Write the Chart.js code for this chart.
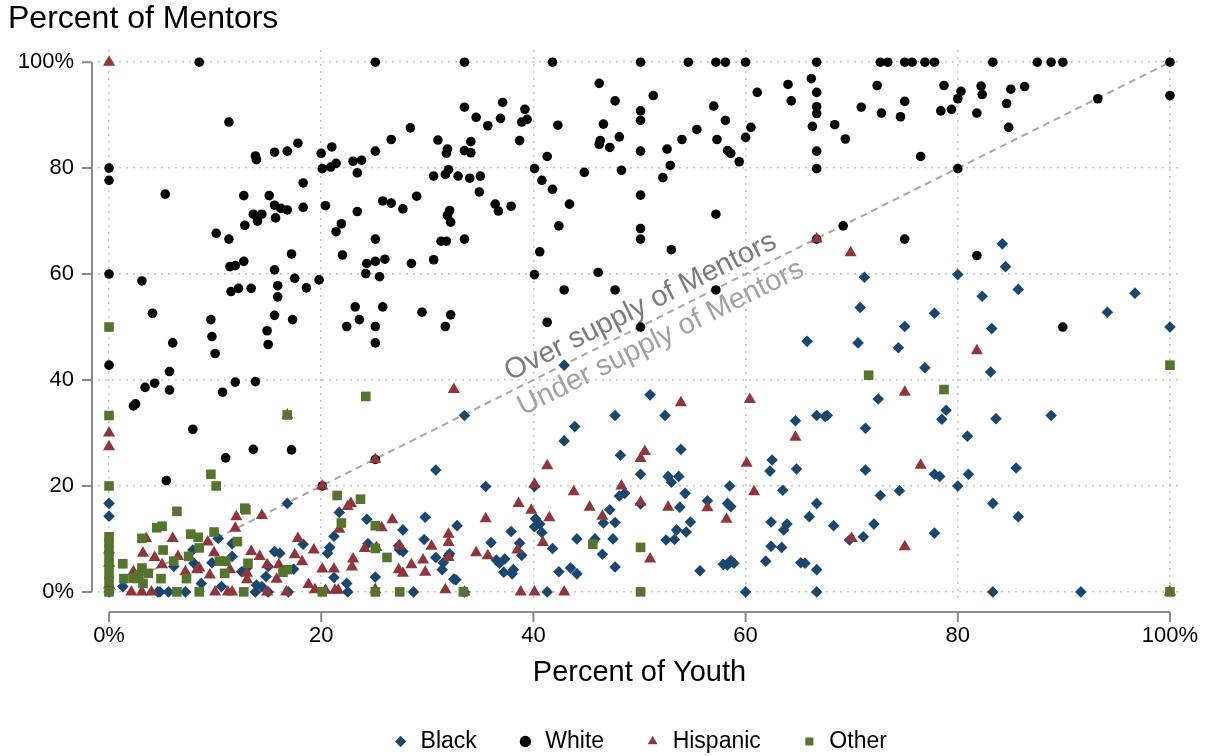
<!DOCTYPE html>
<html lang="en">
<head>
<meta charset="UTF-8" />
<title>Percent of Mentors vs Percent of Youth</title>
<script src="https://cdn.jsdelivr.net/npm/chart.js@4.4.1/dist/chart.umd.min.js"></script>
<style>
  * { margin: 0; padding: 0; box-sizing: border-box; }
  body { background: #fff; width: 1209px; height: 756px; overflow: hidden; }
  canvas { display: block; }
</style>
</head>
<body>
<canvas id="chart" width="1209" height="756"></canvas>
<script>
// ticks
const tickVals = [0, 20, 40, 60, 80, 100];
const xTickLabels = ["0%", "20", "40", "60", "80", "100%"];
const yTickLabels = ["0%", "20", "40", "60", "80", "100%"];

// series: [percent of youth, percent of mentors]
const blackPts = [
  [84.2,65.7],[84.5,61.4],[71.2,59.4],[80,59.9],[82.3,55.8],[85.7,57.1],[70.8,53.7],[77.8,52.6],[96.7,56.4],[94.1,52.8],
  [75,50.1],[83.2,49.7],[100,50],[65.8,47.3],[70.6,47],[74.4,46.1],[76.9,42.3],[83.1,41.5],[72.5,36.4],[66.7,33.3],
  [67.5,33.1],[67.7,33.3],[71.3,30.9],[78.9,34.3],[78.5,32.6],[83.6,32.7],[88.8,33.3],[80.9,29.4],[71.3,23],[77.8,22.2],
  [78.3,21.8],[81,22.2],[85.5,23.4],[80,20],[72.7,18.2],[74.5,19.1],[66.7,16.7],[66,14.2],[68.3,12.5],[72.1,12.8],
  [83.3,16.7],[85.7,14.2],[69.8,9.8],[71.1,10.4],[77.8,11.1],[66.7,4.2],[66.7,0],[83.3,0],[91.6,0],[65.6,5.4],
  [42.9,42.8],[33.5,33.3],[51,37.2],[47.7,33.3],[52.4,33.3],[43.9,31.2],[42.9,28.5],[53.9,26.9],[48.2,25.8],[50.1,22.2],
  [52.7,21.8],[53,20.7],[53.7,21.8],[35.5,19.9],[40.1,19.9],[54.3,18.6],[58.5,20],[48.1,18.1],[48.6,18.6],[47.2,15.5],
  [47.7,13.1],[46.6,13],[53.8,16],[54.8,13.2],[56.4,17.2],[58.3,16.7],[58.6,16.1],[53.5,11.7],[54.4,11.3],[53.3,9.9],
  [52.5,9.8],[44.1,10],[47.5,10],[45.8,10],[40.2,13.8],[40.1,12.3],[40.6,12.8],[40.8,11.2],[41.8,8.2],[37.9,11.4],
  [38.7,9.2],[38.9,6.9],[36,9.3],[32.8,12.5],[36.5,6],[37.3,6.2],[36.8,5.4],[37.2,3.7],[38.1,4.2],[38,3.4],
  [46.5,7.1],[47.7,4.7],[42.4,3.8],[43.5,4.5],[44.1,3.4],[55.7,4],[57.9,5.2],[58.6,5.9],[58.9,5.4],[58.3,5.1],
  [60,0],[41.3,0],[32.7,2.3],[32,6.8],[62.3,22.8],[62.5,24.9],[64.8,23.2],[64.7,32.3],[63.5,19.2],[62.4,13.2],
  [63.6,11.7],[63.9,12.8],[62.4,8.6],[63.4,8.4],[61.9,5.8],[65.2,5.5],[50.1,16.6],
  [30.8,23],[0,16.7],[0,14.3],[16.8,16.7],[21.7,15],[24.3,13.7],[29.8,14.1],[27.7,11.7],[21.2,10.5],[20.8,8.4],
  [20.6,7.3],[18.3,9],[24.4,9.1],[27.4,7.9],[29.7,9.9],[30.8,6.5],[31.5,5.5],[31.4,4.2],[21.2,2.7],[22.4,1.6],
  [25.1,2.8],[28.7,0],[22.5,0],[32.5,2.4],[15.6,7.6],[16.1,7.3],[11.6,9.1],[7.9,7.9],[8,5.4],[6.1,4.8],
  [9.7,5.5],[12.5,3.8],[13,4.5],[14.8,2.9],[15,4.8],[13.9,1.3],[14.4,1],[8.7,1.6],[10.6,1],[11.6,6.7],
  [17.4,4.3],[16.9,0],[13.8,0],[15,0],[7.2,0],[4.8,0],[5.6,0],[1.3,1],[0,0],[10.3,10.1],
  [27.3,8.7],[27.7,7.6],[32.1,7.2],[4.6,0],[33.5,0]
];
const whitePts = [
  [8.5,100],[25.1,100],[33.5,100],[41.8,100],[50.1,100],[54.6,100],[57.2,100],[58.1,100],[60,100],[66.7,100],
  [72.7,100],[73.4,100],[75,100],[75.7,100],[76.9,100],[77.8,100],[83.3,100],[87.5,100],[88.8,100],[89.9,100],[100,100],
  [11.3,88.7],[0,80],[0,77.7],[5.3,75.1],[12.7,74.8],[15.1,74.8],[18.3,77.2],[13.8,82.3],[13.9,81.6],[15.6,83],
  [16.8,83.2],[17.8,84.7],[20,82.8],[21,84],[20.1,79.9],[20.9,80.2],[21.4,80.9],[23,81.3],[23.8,81.5],[23.4,79.1],
  [25.1,83.2],[26.6,85.4],[28.4,87.6],[31,85.3],[31.9,83.6],[31.8,82.8],[32,79.7],[31.7,78.8],[30.6,78.5],
  [16.2,72.4],[16.8,72.1],[15.6,73],[18.3,72.6],[13.6,71.3],[14.4,71.3],[14,70],[15.7,70.6],[12.8,69.2],[10.1,67.7],
  [11.3,66.6],[20.4,72.9],[23.4,71.8],[25.8,73.8],[26.6,73.4],[27.7,72.3],[29,74.7],[21.9,69.5],[21.4,68],[25.1,66.6],
  [32.1,72],[31.9,71.1],[32.2,69.8],[31.3,66.2],[31.8,66.2],
  [17.2,63.8],[22,63.6],[11.4,61.4],[11.9,61.6],[12.7,62.4],[15.6,60.8],[24.3,62],[25.1,62.4],[26,62.8],[24.2,60.1],
  [25.5,59.5],[28.5,62],[30.6,62.7],[0,60],[3.1,58.7],[11.5,56.7],[12.2,57.3],[13.4,57.3],[15.9,57.8],[15.9,55.7],
  [17.5,59.2],[18.6,57.4],[19.8,58.9],[4.1,52.6],[9.6,51.4],[15.6,52.2],[17.3,51.4],[23.2,53.8],[25.8,53.8],[23.6,51.4],
  [29.5,52.8],[32.2,52.3],[22.4,50.1],[25.1,50.1],[31.7,50.1],[14.9,49.3],
  [9.7,48.2],[15,46.7],[6,47],[10,45],[0,42.8],[5.7,41.6],[3.4,38.6],[4.3,39.4],[5.7,38.1],[10.7,37.7],
  [11.9,39.6],[13.8,39.7],[2.3,35.1],[2.5,35.5],[7.9,30.7],[11,25.3],[13.6,26.9],[17.2,26.8],[5.4,21],[25.1,47],
  [20.1,20],[25.1,25],
  [46.2,96],[51.3,93.7],[47.7,92.7],[33.5,91.5],[37.1,92.4],[34.6,89.6],[35.7,88],[36.9,89.4],[39.2,91.1],[38.9,88.7],
  [39.4,89.2],[38.7,85.2],[42.3,88.1],[50.1,90.8],[50.1,89],[46.6,88.3],[46.3,85.2],[46.2,84.5],[47.2,83.9],[48.1,85.9],
  [50.1,83.2],[52.6,83.6],[52.9,80.5],[54,85.4],[55.4,87.3],[57,91.7],[58.1,89],[57.3,85.4],[58.3,83.3],[58.6,82.8],
  [59.4,81.2],[60.5,87.7],[60,85.8],[61.1,94.3],[64,95.8],[64.3,92.7],[66.2,96.9],
  [32.9,78.5],[34,78.1],[35,78.5],[34.1,85],[33.5,83.3],[34.1,82.9],[34.9,75.5],[36.4,73.2],[36.7,71.9],[37.9,72.8],
  [33.5,66.6],[40.1,79.9],[41.3,82.2],[40.8,77.7],[41.8,76],[43.4,73.2],[42.4,69.1],[44.8,79.2],[48.3,79.6],[40.6,64.2],
  [40.1,59.9],[46.1,60.3],[42.9,57],[47.7,57],[50.1,74.9],[50.1,68.6],[50.1,66.6],[52.2,78.2],[53,64.6],[57.2,71.3],
  [57.2,57],[41.3,50.9],[50.1,50],
  [66.7,94.3],[66.7,91.6],[66.7,90.3],[66.3,87.9],[66.7,83.2],[66.7,79.9],[68.4,88.2],[69.4,85.5],[70.9,91.5],[72.4,95.6],
  [72.8,90.4],[74.6,89.7],[75,92.6],[76.5,82.2],[78.7,95.6],[78.4,90.8],[79.4,91.1],[80,93.1],[80.3,94.5],[80,79.9],
  [81.8,90.4],[82.2,95.5],[82.3,93.9],[84.6,92.2],[85,94.9],[84.8,87.7],[86.3,95.4],[93.2,93.1],[100,93.7],[69.2,69.1],
  [66.7,66.6],[75,66.6],[81.8,63.5],[89.9,50]
];
const hispPts = [
  [0,100],[66.7,66.6],[69.9,64],[81.8,45.5],[75,37.7],[76.5,23.9],[70,10.1],[75,8.5],[100,0],
  [32.5,38.2],[53.9,35.7],[60.4,36.3],[64.7,29.2],[41.3,23.8],[50.5,26.5],[50.1,25.2],[60.1,24.3],[60.8,18.9],[40.1,20.3],
  [48.3,20],[43.8,18.9],[45.3,16],[46.5,14.3],[50.1,16.9],[52.7,16],[56.4,15.9],[58.2,13.7],[38.6,16.7],[39.8,15.4],
  [41.5,14],[35.5,13.8],[40.9,9.3],[38.5,7.9],[34.6,7.4],[35.7,6.8],[32,10.9],[32,9.3],[32,6.5],[51,6.2],
  [33.5,0],[38.8,0],[40.1,0],[42.9,0],
  [0,30],[0,27.4],[16.8,33.4],[25.1,25],[20.1,20],[22.5,16.1],[22.8,16.7],[12,14.2],[14.4,14.4],[11.9,12],
  [21.7,11.8],[25.7,12.1],[26.7,13.6],[17.8,10.1],[19.3,7.9],[9.3,9.4],[6,10.1],[3.5,10.1],[3.2,7.3],[4.3,6.5],
  [9.9,7.4],[13.4,7.6],[14.2,6.7],[5,5.1],[6.5,6.7],[8.5,4.5],[9.5,3.2],[11.4,4.2],[13,3.5],[14.9,5.1],
  [16,5.1],[15.8,2.4],[17.5,7],[18.2,5.7],[18.8,1.4],[20.1,4.3],[21.2,4.3],[23,6.2],[22.9,4.7],[24.1,8.2],
  [25.2,8.4],[27.4,8.7],[27.3,4.2],[27.7,3.5],[28.5,5.1],[29.6,6],[29.8,3.7],[30.4,8.6],[31.7,0.4],[2.1,0],
  [3.1,0],[4,0],[11.2,0],[10,0],[11.6,0],[14.9,0],[16.7,0],[19.4,0.4],[20.4,0.3],[21.3,0.3],
  [21.6,0.3],[25.1,0.4],[0,7.9],[0,5.4],[0,1.3],[7.2,3.8],[8.3,4.2],[2.3,3.8],[2.8,2.3],[13,2.3]
];
const otherPts = [
  [0,50],[0,33.3],[0,20],[0,10.4],[0,9.3],[0,8],[0,6.5],[0,5],[0,3.3],[0,2],
  [0,0],[24.2,36.9],[16.8,33.4],[9.6,22.2],[10.1,20],[6.4,15.2],[12.8,15.8],[12.9,15.5],[4.5,12.1],[5,12.4],
  [3.1,10.1],[5.1,7.9],[7.7,10.9],[8.4,10.3],[9.9,11.3],[12.1,9.5],[8.5,8.3],[6.1,5.8],[7.5,6.7],[1.3,5.3],
  [10.4,5.8],[11,5.8],[13.1,5.4],[10.9,3.5],[3.1,4.5],[3.7,3.5],[2.8,3.2],[3.2,1.6],[2.3,2.6],[1.4,2.5],
  [4.9,2.5],[7.3,2.5],[6.4,0],[8.5,0],[12.7,0],[16.4,3.7],[16.8,4.2],[20.1,0],[21.5,18.2],[23.7,17.5],
  [21.9,13],[25.1,12.5],[25.1,8.2],[26.2,6.5],[25.1,0],[27.4,0],[33.4,0],[45.6,9],[50.1,8.4],[50.1,0],
  [71.6,40.9],[78.7,38.2],[100,42.8],[100,0]
];

// equal-share reference line
const diagX = [0, 100];
const diagY = [0, 100];

const noteText = ["Over supply of Mentors", "Under supply of Mentors"];
const notePos = [[50.1, 53.8], [52.0, 47.9]];
const noteColors = ["#7b7b7b", "#a2a2a2"];

const FONT = "'Liberation Sans', Arial, Helvetica, sans-serif";
Chart.defaults.font.family = FONT;
Chart.defaults.color = "#000";

const toXY = (arr) => arr.map((p) => ({ x: p[0], y: p[1] }));

// shrink legend box so the labels sit near the bottom edge
const legendFit = {
  id: "legendFit",
  beforeLayout(chart) {
    const lg = chart.legend;
    if (!lg || lg._patched) return;
    const fit = lg.fit;
    lg.fit = function () {
      fit.call(this);
      this.height = 66;
    };
    lg._patched = true;
  },
};

// offset axis lines with outward ticks (Stata style)
const axisLines = {
  id: "axisLines",
  afterDraw(chart) {
    const { ctx, chartArea, scales } = chart;
    const x = scales.x, y = scales.y;
    const ay = chartArea.bottom + 9;
    const ax = chartArea.left - 6;
    ctx.save();
    ctx.strokeStyle = "#8a8a8a";
    ctx.lineWidth = 2;
    ctx.beginPath();
    ctx.moveTo(x.getPixelForValue(0), ay);
    ctx.lineTo(x.getPixelForValue(100), ay);
    tickVals.forEach((v) => {
      const px = x.getPixelForValue(v);
      ctx.moveTo(px, ay);
      ctx.lineTo(px, ay + 10);
    });
    ctx.moveTo(ax, y.getPixelForValue(0));
    ctx.lineTo(ax, y.getPixelForValue(100));
    tickVals.forEach((v) => {
      const py = y.getPixelForValue(v);
      ctx.moveTo(ax, py);
      ctx.lineTo(ax - 10, py);
    });
    ctx.stroke();
    ctx.restore();
  },
};

// rotated notes along the diagonal
const diagNotes = {
  id: "diagNotes",
  beforeDatasetsDraw(chart) {
    const { ctx, scales } = chart;
    const x = scales.x, y = scales.y;
    const ang = Math.atan2(
      y.getPixelForValue(100) - y.getPixelForValue(0),
      x.getPixelForValue(100) - x.getPixelForValue(0)
    );
    ctx.save();
    ctx.font = "29px " + FONT;
    ctx.textAlign = "center";
    ctx.textBaseline = "middle";
    noteText.forEach((t, i) => {
      ctx.save();
      ctx.translate(x.getPixelForValue(notePos[i][0]), y.getPixelForValue(notePos[i][1]));
      ctx.rotate(ang);
      ctx.fillStyle = noteColors[i];
      ctx.fillText(t, 0, 0);
      ctx.restore();
    });
    ctx.restore();
  },
};

const gridOpts = { color: "#c4c4c4", lineWidth: 1.5, drawTicks: false };
const borderOpts = { display: false, dash: [2, 5] };

new Chart(document.getElementById("chart"), {
  type: "scatter",
  data: {
    datasets: [
      { label: "Black", data: toXY(blackPts), pointStyle: "rectRot", pointRadius: 5.8,
        backgroundColor: "#1a476f", borderColor: "#1a476f", pointBorderWidth: 0, order: 4 },
      { label: "White", data: toXY(whitePts), pointStyle: "circle", pointRadius: 4.8,
        backgroundColor: "#000000", borderColor: "#000000", pointBorderWidth: 0, order: 3 },
      { label: "Hispanic", data: toXY(hispPts), pointStyle: "triangle", pointRadius: 7,
        backgroundColor: "#90353b", borderColor: "#90353b", pointBorderWidth: 0, order: 2 },
      { label: "Other", data: toXY(otherPts), pointStyle: "rect", pointRadius: 6.8,
        backgroundColor: "#55752f", borderColor: "#55752f", pointBorderWidth: 0, order: 1 },
      { type: "line", label: "diag", data: diagX.map((v, i) => ({ x: v, y: diagY[i] })),
        borderColor: "#a6a6a6", borderWidth: 2, borderDash: [7, 5], pointRadius: 0, order: 5 },
    ],
  },
  options: {
    responsive: false,
    animation: false,
    events: [],
    layout: { padding: { left: 8, right: 28, top: 0, bottom: 0 } },
    scales: {
      x: {
        type: "linear",
        min: -1.04,
        max: 101.04,
        afterBuildTicks: (s) => { s.ticks = tickVals.map((v) => ({ value: v })); },
        afterFit: (s) => { s.height = 87; s.paddingLeft = 0; s.paddingRight = 0; },
        ticks: { padding: 20, font: { size: 22 }, color: "#000", maxRotation: 0, autoSkip: false,
          callback: (v, i) => xTickLabels[i] },
        grid: gridOpts,
        border: borderOpts,
        title: { display: true, text: "Percent of Youth", font: { size: 29 }, color: "#000",
          padding: { top: 0, bottom: 0 } },
      },
      y: {
        type: "linear",
        min: -2.1,
        max: 102.3,
        afterBuildTicks: (s) => { s.ticks = tickVals.map((v) => ({ value: v })); },
        afterFit: (s) => { s.width = 90; s.paddingTop = 0; s.paddingBottom = 0; },
        ticks: { padding: 24, font: { size: 22 }, color: "#000", autoSkip: false,
          callback: (v, i) => yTickLabels[i] },
        grid: gridOpts,
        border: borderOpts,
      },
    },
    plugins: {
      tooltip: { enabled: false },
      title: {
        display: true, text: "Percent of Mentors", align: "start", color: "#000",
        font: { size: 32, weight: "normal" }, padding: { top: 0, bottom: 11.6 },
      },
      legend: {
        position: "bottom",
        fullSize: false,
        align: "center",
        labels: {
          usePointStyle: true, boxWidth: 17, boxHeight: 8, padding: 40, color: "#000",
          font: { size: 23 },
          filter: (it) => it.datasetIndex < 4,
          sort: (a, b) => a.datasetIndex - b.datasetIndex,
        },
      },
    },
  },
  plugins: [legendFit, axisLines, diagNotes],
});
</script>
</body>
</html>
